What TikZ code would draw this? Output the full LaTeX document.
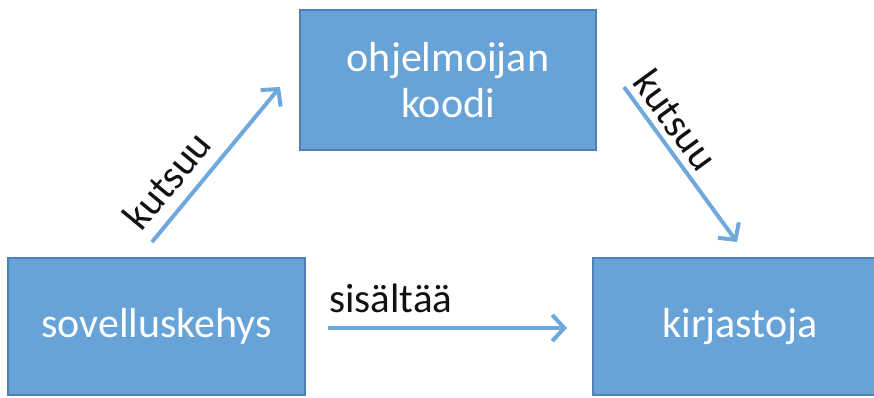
\documentclass[tikz,border=0pt]{standalone}
\usepackage{fontspec}
\setmainfont{Carlito}
\usetikzlibrary{arrows.meta}
\definecolor{boxfill}{HTML}{67A3D6}
\definecolor{boxline}{HTML}{4F80B5}
\definecolor{arrowc}{HTML}{6FA8DB}
\definecolor{labc}{HTML}{111111}
\tikzset{
  box/.style={draw=boxline, line width=2.5pt, fill=boxfill, text=white, inner sep=0pt,
    font=\fontsize{42}{46}\selectfont, align=center},
  conn/.style={draw=arrowc, line width=4pt, -{Straight Barb[length=12pt,width=26pt,line width=4pt]}},
  lab/.style={text=labc, inner sep=0pt, font=\fontsize{41}{46}\selectfont}
}
\begin{document}
\begin{tikzpicture}[x=1pt,y=-1pt]
\useasboundingbox (0,0) rectangle (874,397);
\clip (0,0) rectangle (874,397);
\node[box, minimum width=296pt, minimum height=140pt] (code) at (448,80) {ohjelmoijan\\koodi};
\node[box, minimum width=297pt, minimum height=137pt] (fw) at (156.5,326.5) {sovelluskehys};
\node[box, minimum width=294pt, minimum height=137pt] (lib) at (740,326.5) {kirjastoja};
\coordinate (a1s) at (152,242);
\coordinate (a1e) at (280,87);
\coordinate (a2s) at (624,87);
\coordinate (a2e) at (737,242);
\coordinate (a3s) at (328,328);
\coordinate (a3e) at (567,328);
\draw[conn] (a1s) -- (a1e);
\draw[conn] (a2s) -- (a2e);
\draw[conn] (a3s) -- (a3e);
\node[lab, rotate=50.4] (l1) at (167,180) {kutsuu};
\node[lab, rotate=-53.9] (l2) at (676,120) {kutsuu};
\node[lab, anchor=base] (l3) at (391,312) {sisältää};
\end{tikzpicture}
\end{document}
